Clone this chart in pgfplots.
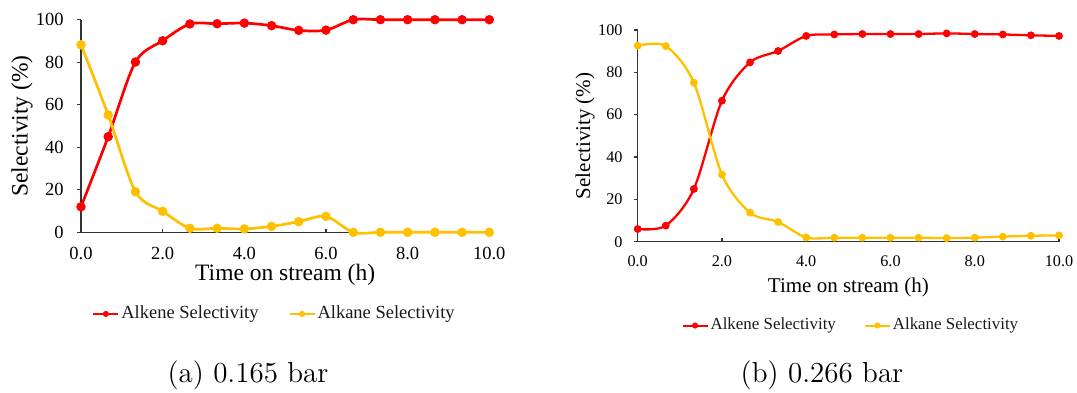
\documentclass[border=0pt]{standalone}
\usepackage{fontspec}
\usepackage{pgfplots}
\usepackage{pgfplotstable}
\pgfplotsset{compat=1.18}
\newfontfamily\chartfont{Liberation Serif}
\definecolor{alkene}{HTML}{FF0000}
\definecolor{alkane}{HTML}{FFC000}

% Selectivity vs. time on stream, 0.165 bar
\pgfplotstableread{
t      alkene  alkane
0      12.0    88.2
0.667  45.0    55.2
1.333  80.1    19.1
2.000  90.1     9.9
2.667  98.0     1.9
3.333  98.1     1.9
4.000  98.4     1.6
4.667  97.2     2.8
5.333  95.0     5.0
6.000  95.1     7.5
6.667 100.0     0.0
7.333 100.0     0.0
8.000 100.0     0.0
8.667 100.0     0.0
9.333 100.0     0.0
10.00 100.0     0.0
}\lowp

% Selectivity vs. time on stream, 0.266 bar
\pgfplotstableread{
t      alkene  alkane
0       6.0    92.6
0.667   7.6    92.4
1.333  24.9    75.1
2.000  66.6    31.7
2.667  84.7    13.7
3.333  90.1     9.3
4.000  97.2     2.0
4.667  97.9     1.9
5.333  98.1     1.9
6.000  98.1     1.9
6.667  98.1     1.9
7.333  98.4     1.7
8.000  98.1     1.9
8.667  97.9     2.4
9.333  97.5     2.8
10.00  97.2     3.0
}\highp

\pgfplotsset{
  selaxis/.style={
    scale only axis, clip=false,
    axis x line*=bottom, axis y line*=left,
    axis line style={-, black!80, line width=0.55pt},
    xmin=0, xmax=10, ymin=0, ymax=100,
    xtick={0,2,...,10}, ytick={0,20,...,100},
    xtick align=inside, ytick align=outside,
    major tick length=1.9pt,
    tick style={black!80, line width=0.55pt},
    /pgf/number format/assume math mode=true,
    x tick label style={/pgf/number format/fixed,
      /pgf/number format/fixed zerofill, /pgf/number format/precision=1},
    xticklabel style={anchor=north, inner sep=0pt},
    yticklabel style={anchor=east, inner sep=0pt},
    legend columns=2,
    legend cell align=left,
    legend style={draw=none, fill=none, inner sep=0pt, anchor=center,
      nodes={inner sep=1pt, text=black!90}},
    legend image code/.code={\draw[##1, line width=1pt, mark size=1pt,
      mark repeat=2, mark phase=2]
      plot coordinates {(0pt,0pt) (6.25pt,0pt) (12.5pt,0pt)};},
  },
}

\begin{document}
\begin{tikzpicture}
\useasboundingbox (0,0) rectangle (538.5pt,196pt);

% (a) 0.165 bar
\begin{axis}[selaxis,
  at={(40.5pt,79.85pt)}, anchor=south west,
  width=204.15pt, height=106.3pt,
  tick label style={font=\chartfont\fontsize{9.25}{10}\selectfont},
  xticklabel style={yshift=-7.4pt},
  yticklabel style={xshift=-6.6pt},
  xlabel={Time on stream (h)}, ylabel={Selectivity (\%)},
  label style={font=\chartfont\fontsize{11.75}{13}\selectfont},
  xlabel style={at={([yshift=-21.35pt]axis description cs:0.5,0)}, anchor=center},
  ylabel style={at={([xshift=-29.5pt]axis description cs:0,0.5)}, anchor=center, rotate=0},
  legend style={at={(axis description cs:0.474,-0.384)},
    font=\chartfont\fontsize{9.25}{10}\selectfont,
    /tikz/every even column/.append style={column sep=14pt}},
]
\addplot[alkene, line width=1.35pt, smooth, tension=0.5, mark=*, mark size=1.65pt]
  table[x=t, y=alkene] {\lowp};
\addlegendentry{Alkene Selectivity}
\addplot[alkane, line width=1.35pt, smooth, tension=0.5, mark=*, mark size=1.65pt]
  table[x=t, y=alkane] {\lowp};
\addlegendentry{Alkane Selectivity}
\end{axis}

% (b) 0.266 bar
\begin{axis}[selaxis,
  at={(318.85pt,75.15pt)}, anchor=south west,
  width=210.65pt, height=105.85pt,
  tick label style={font=\chartfont\fontsize{8.1}{9}\selectfont},
  xticklabel style={yshift=-7.0pt},
  yticklabel style={xshift=-5.5pt},
  xlabel={Time on stream (h)}, ylabel={Selectivity (\%)},
  label style={font=\chartfont\fontsize{10.5}{12}\selectfont},
  xlabel style={at={([yshift=-22.65pt]axis description cs:0.5,0)}, anchor=center},
  ylabel style={at={([xshift=-26.35pt]axis description cs:0,0.5)}, anchor=center, rotate=0},
  legend style={at={(axis description cs:0.506,-0.396)},
    font=\chartfont\fontsize{8.45}{9.5}\selectfont,
    /tikz/every even column/.append style={column sep=13pt}},
]
\addplot[alkene, line width=1.15pt, smooth, tension=0.5, mark=*, mark size=1.35pt]
  table[x=t, y=alkene] {\highp};
\addlegendentry{Alkene Selectivity}
\addplot[alkane, line width=1.15pt, smooth, tension=0.5, mark=*, mark size=1.35pt]
  table[x=t, y=alkane] {\highp};
\addlegendentry{Alkane Selectivity}
\end{axis}

% sub-captions
\node[font=\fontsize{14.5}{17}\selectfont] at (124pt,8.5pt) {(a) 0.165 bar};
\node[font=\fontsize{14.5}{17}\selectfont] at (411pt,8.5pt) {(b) 0.266 bar};
\end{tikzpicture}
\end{document}
